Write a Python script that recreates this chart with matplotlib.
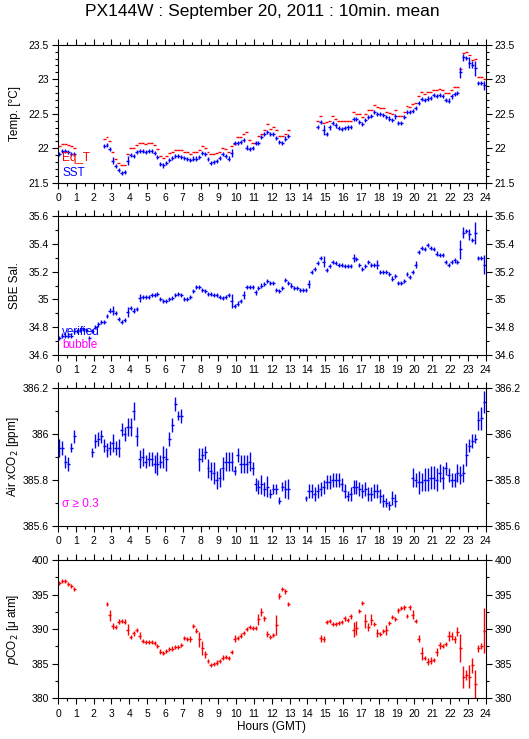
import numpy as np
import matplotlib
matplotlib.use('Agg')
import matplotlib.pyplot as plt
from matplotlib.ticker import MultipleLocator, FuncFormatter

plt.rcParams['font.family'] = ['Liberation Sans', 'DejaVu Sans']

# 10-minute means; each run starts at the given HH:MM and goes on in 10 min steps
temp_starts = ['00:00', '02:30', '14:30']
eqt_runs = [
    [22.03, 22.06, 22.06, 22.04, 22.03, 22.01],
    [22.14, 22.16, 22.10, 21.94, 21.84, 21.79, 21.76, 21.76, 21.92, 22.00, 22.00, 22.04,
     22.07, 22.07, 22.06, 22.07, 22.07, 22.04, 21.99, 21.88, 21.86, 21.88, 21.93, 21.95,
     21.98, 21.98, 21.97, 21.95, 21.94, 21.92, 21.94, 21.94, 21.97, 22.03, 22.01, 21.94,
     21.91, 21.92, 21.93, 21.95, 22.01, 21.99, 21.95, 22.03, 22.06, 22.16, 22.16, 22.20,
     22.23, 22.12, 22.08, 22.08, 22.18, 22.20, 22.26, 22.35, 22.28, 22.31, 22.26, 22.18,
     22.17, 22.21, 22.26],
    [22.40, 22.47, 22.37, 22.38, 22.39, 22.46, 22.42, 22.39, 22.39, 22.39, 22.39, 22.39,
     22.52, 22.50, 22.49, 22.45, 22.49, 22.55, 22.55, 22.62, 22.60, 22.58, 22.58, 22.53,
     22.51, 22.50, 22.55, 22.47, 22.47, 22.53, 22.61, 22.60, 22.64, 22.66, 22.75, 22.81,
     22.78, 22.82, 22.81, 22.85, 22.85, 22.86, 22.84, 22.80, 22.80, 22.84, 22.88, 22.88,
     23.15, 23.38, 23.40, 23.35, 23.28, 23.29, 23.03, 23.03, 23.00],
]
sst_runs = [
    [21.92, 21.96, 21.96, 21.94, 21.92, 21.92],
    [22.03, 22.05, 21.99, 21.82, 21.74, 21.68, 21.64, 21.65, 21.82, 21.90, 21.89, 21.94,
     21.96, 21.96, 21.95, 21.96, 21.96, 21.93, 21.87, 21.77, 21.75, 21.78, 21.83, 21.86,
     21.89, 21.89, 21.87, 21.86, 21.84, 21.83, 21.85, 21.85, 21.87, 21.93, 21.92, 21.84,
     21.79, 21.80, 21.82, 21.86, 21.92, 21.89, 21.85, 21.93, 22.07, 22.07, 22.09, 22.12,
     22.01, 21.99, 22.00, 22.08, 22.08, 22.16, 22.20, 22.24, 22.20, 22.21, 22.15, 22.09,
     22.07, 22.14, 22.18],
    [22.31, 22.38, 22.26, 22.21, 22.30, 22.36, 22.33, 22.29, 22.28, 22.29, 22.30, 22.31,
     22.42, 22.42, 22.38, 22.35, 22.41, 22.45, 22.47, 22.53, 22.50, 22.49, 22.48, 22.45,
     22.43, 22.41, 22.46, 22.37, 22.37, 22.45, 22.52, 22.52, 22.54, 22.58, 22.65, 22.71,
     22.70, 22.72, 22.73, 22.77, 22.76, 22.77, 22.76, 22.70, 22.69, 22.75, 22.78, 22.80,
     23.10, 23.32, 23.31, 23.24, 23.21, 23.16, 22.94, 22.94, 22.91],
]
sst_err_default = 0.03
sst_err_big = {'03:00': 0.05, '03:50': 0.07, '09:40': 0.06, '14:50': 0.07, '21:50': 0.04,
               '22:30': 0.08, '22:40': 0.05, '23:00': 0.08, '23:10': 0.05, '23:20': 0.11,
               '23:50': 0.06}

sal_starts = ['00:00']
sal_runs = [
    [34.72, 34.74, 34.74, 34.74, 34.74, 34.77, 34.77, 34.78, 34.79, 34.78, 34.72, 34.77,
     34.80, 34.82, 34.84, 34.84, 34.88, 34.92, 34.92, 34.90, 34.86, 34.84, 34.85, 34.91,
     34.94, 34.92, 34.93, 35.01, 35.02, 35.02, 35.02, 35.03, 35.03, 35.04, 35.00, 34.99,
     34.99, 35.00, 35.01, 35.03, 35.04, 35.03, 35.00, 35.00, 35.02, 35.06, 35.09, 35.09,
     35.07, 35.06, 35.04, 35.04, 35.03, 35.03, 35.02, 35.01, 35.02, 35.03, 34.99, 34.95,
     34.97, 34.99, 35.03, 35.09, 35.09, 35.09, 35.05, 35.08, 35.10, 35.11, 35.13, 35.12,
     35.12, 35.07, 35.06, 35.08, 35.14, 35.12, 35.10, 35.08, 35.08, 35.07, 35.07, 35.07,
     35.11, 35.20, 35.22, 35.26, 35.30, 35.27, 35.21, 35.24, 35.27, 35.26, 35.25, 35.25,
     35.24, 35.24, 35.24, 35.30, 35.29, 35.25, 35.22, 35.24, 35.27, 35.25, 35.25, 35.25,
     35.20, 35.20, 35.20, 35.18, 35.15, 35.17, 35.12, 35.12, 35.13, 35.18, 35.16, 35.20,
     35.25, 35.34, 35.37, 35.36, 35.39, 35.37, 35.36, 35.33, 35.32, 35.32, 35.27, 35.25,
     35.27, 35.28, 35.27, 35.36, 35.48, 35.49, 35.47, 35.43, 35.48, 35.30, 35.30, 35.25],
]
sal_err_default = 0.015
sal_err_big = {'01:40': 0.02, '03:00': 0.03, '03:50': 0.035, '04:30': 0.03, '09:40': 0.05,
               '10:20': 0.03, '14:00': 0.03, '14:50': 0.04, '16:30': 0.03, '17:50': 0.03,
               '20:00': 0.025, '22:30': 0.07, '22:40': 0.04, '23:00': 0.04, '23:20': 0.08,
               '23:50': 0.07}

xco2_starts = ['00:00', '01:50', '07:50', '13:50', '19:50']
xco2_runs = [
    [385.94, 385.94, 385.88, 385.87, 385.94, 385.99],
    [385.92, 385.97, 385.98, 385.99, 385.95, 385.93, 385.94, 385.96, 385.94, 385.94, 386.02,
     386.00, 386.03, 386.03, 386.10, 385.99, 385.89, 385.90, 385.88, 385.89, 385.89, 385.87,
     385.87, 385.88, 385.90, 385.89, 385.98, 386.04, 386.13, 386.08, 386.08],
    [385.89, 385.91, 385.92, 385.85, 385.84, 385.83, 385.80, 385.81, 385.85, 385.88, 385.88,
     385.88, 385.84, 385.91, 385.87, 385.87, 385.87, 385.88, 385.85, 385.78, 385.77, 385.78,
     385.76, 385.77, 385.74, 385.76, 385.76, 385.71, 385.77, 385.76, 385.76],
    [385.72, 385.75, 385.75, 385.74, 385.75, 385.76, 385.77, 385.79, 385.79, 385.80, 385.80,
     385.80, 385.78, 385.75, 385.73, 385.74, 385.77, 385.77, 385.76, 385.75, 385.76, 385.74,
     385.74, 385.75, 385.75, 385.73, 385.71, 385.70, 385.69, 385.72, 385.71],
    [385.81, 385.80, 385.79, 385.79, 385.80, 385.80, 385.81, 385.81, 385.80, 385.83, 385.81,
     385.85, 385.82, 385.80, 385.80, 385.83, 385.82, 385.83, 385.91, 385.95, 385.97, 385.98,
     386.06, 386.07, 386.14],
]
xco2_err_runs = [
    [0.04, 0.03, 0.03, 0.03, 0.02, 0.03],
    [0.02, 0.03, 0.03, 0.03, 0.03, 0.03, 0.03, 0.04, 0.03, 0.04, 0.03, 0.03, 0.04, 0.04, 0.04,
     0.04, 0.04, 0.04, 0.03, 0.03, 0.03, 0.04, 0.05, 0.03, 0.05, 0.05, 0.03, 0.03, 0.03, 0.02,
     0.03],
    [0.05, 0.03, 0.03, 0.04, 0.04, 0.05, 0.04, 0.04, 0.05, 0.04, 0.04, 0.04, 0.02, 0.03, 0.04,
     0.04, 0.04, 0.04, 0.03, 0.03, 0.03, 0.04, 0.03, 0.045, 0.02, 0.02, 0.02, 0.015, 0.02, 0.04,
     0.045],
    [0.01, 0.03, 0.03, 0.03, 0.03, 0.03, 0.03, 0.03, 0.03, 0.03, 0.03, 0.03, 0.03, 0.03, 0.02,
     0.03, 0.03, 0.03, 0.03, 0.03, 0.03, 0.03, 0.03, 0.03, 0.03, 0.03, 0.03, 0.02, 0.02, 0.03,
     0.03],
    [0.04, 0.03, 0.05, 0.04, 0.05, 0.05, 0.05, 0.05, 0.05, 0.04, 0.05, 0.03, 0.03, 0.03, 0.03,
     0.04, 0.04, 0.04, 0.05, 0.03, 0.03, 0.02, 0.04, 0.05, 0.05],
]

pco2_starts = ['00:00', '02:40', '14:40']
pco2_runs = [
    [396.67, 397.00, 397.00, 396.57, 396.18, 395.80],
    [393.67, 392.00, 390.48, 390.34, 391.10, 391.20, 391.10, 389.90, 388.84, 389.40, 389.90,
     389.03, 388.30, 388.10, 388.10, 388.10, 387.97, 387.60, 386.76, 386.52, 386.86, 387.10,
     387.20, 387.40, 387.40, 387.70, 388.70, 388.55, 388.55, 390.43, 389.80, 388.55, 387.25,
     386.40, 385.36, 384.83, 384.93, 385.17, 385.36, 385.90, 385.94, 385.80, 386.67, 388.60,
     388.74, 389.08, 389.42, 390.00, 390.29, 390.20, 390.14, 391.45, 392.50, 391.55, 389.30,
     388.90, 389.20, 390.60, 394.80, 395.80, 395.46, 393.67],
    [388.65, 388.55, 391.06, 391.20, 390.72, 390.77, 390.87, 391.00, 391.55, 391.35, 391.84,
     389.90, 390.14, 392.60, 393.77, 391.20, 390.30, 391.35, 390.72, 389.42, 389.30, 389.76,
     389.90, 390.87, 391.70, 391.50, 392.70, 393.04, 393.14, 391.93, 393.14, 392.10, 391.20,
     388.60, 386.50, 385.80, 385.30, 385.46, 385.50, 386.70, 387.70, 387.60, 387.87, 389.00,
     389.00, 388.55, 389.66, 387.25, 383.14, 383.38, 383.14, 384.78, 382.07, 387.25, 387.54,
     389.80],
]
pco2_err_default = 0.3
pco2_err_big = {'02:50': 0.75, '03:00': 0.4, '03:50': 0.8, '04:10': 0.4, '04:30': 0.5,
                '07:20': 0.4, '07:50': 1.1, '08:00': 1.0, '08:10': 0.5, '09:50': 0.5,
                '11:10': 0.8, '11:20': 0.6, '11:30': 0.4, '11:40': 0.5, '12:10': 1.4,
                '12:20': 0.5, '12:40': 0.4, '14:40': 0.5, '14:50': 0.4, '16:30': 1.1,
                '16:40': 1.0, '17:10': 1.0, '17:20': 0.6, '17:30': 0.8, '17:50': 0.6,
                '18:20': 0.7, '19:50': 0.7, '20:10': 0.5, '20:20': 0.9, '20:40': 0.5,
                '20:50': 0.5, '21:10': 0.6, '21:20': 0.5, '21:50': 0.7, '22:00': 0.6,
                '22:10': 0.5, '22:20': 0.7, '22:30': 2.0, '22:40': 1.6, '22:50': 0.7,
                '23:00': 1.7, '23:10': 1.1, '23:20': 2.0, '23:30': 0.5, '23:40': 0.4,
                '23:50': 3.3}

hour_ticks = list(range(0, 25))


def to_min(hhmm):
    h, m = hhmm.split(':')
    return int(h) * 60 + int(m)


def expand(starts, runs):
    # centre of every 10-minute slot, in hours
    xs, ys, keys = [], [], []
    for s, run in zip(starts, runs):
        m0 = to_min(s)
        for i, v in enumerate(run):
            m = m0 + 10 * i
            xs.append((m + 5) / 60.0)
            ys.append(v)
            keys.append('%02d:%02d' % (m // 60, m % 60))
    return np.array(xs), np.array(ys), keys


def errs(keys, default, big):
    return np.array([big.get(k, default) for k in keys])


BLUE = '#0000ff'
RED = '#ff0000'
MAGENTA = '#ff00ff'

fig = plt.figure(figsize=(5.29, 7.39), dpi=100)
W, H = 529.0, 739.0
left, right = 58.0, 485.7
panels = [(44.7, 182.7), (216.0, 355.0), (388.3, 525.7), (560.0, 698.3)]
axes = []
for top, bot in panels:
    ax = fig.add_axes([left / W, 1 - bot / H, (right - left) / W, (bot - top) / H])
    axes.append(ax)

fmt = FuncFormatter(lambda v, p: '%g' % round(v, 3))

def style(ax, ylo, yhi, major, minor, ylabel):
    ax.set_xlim(0, 24)
    ax.set_ylim(ylo, yhi)
    ax.set_xticks(hour_ticks)
    ax.xaxis.set_minor_locator(MultipleLocator(0.5))
    ax.yaxis.set_major_locator(MultipleLocator(major))
    ax.yaxis.set_minor_locator(MultipleLocator(minor))
    ax.yaxis.set_major_formatter(fmt)
    ax.tick_params(which='both', direction='out', top=True, right=True,
                   labelright=True, labelsize=7.5, width=0.8, pad=2)
    ax.tick_params(which='major', length=4.5)
    ax.tick_params(which='minor', length=2.2)
    ax.tick_params(axis='x', pad=3)
    for sp in ax.spines.values():
        sp.set_linewidth(0.8)
    ax.set_ylabel(ylabel, fontsize=8.5)
    ax.yaxis.set_label_coords(-0.086, 0.5)


# Temperature
ax = axes[0]
x, y, k = expand(temp_starts, eqt_runs)
ax.errorbar(x, y, xerr=1 / 12, fmt='none', ecolor=RED, elinewidth=1.0)
x, y, k = expand(temp_starts, sst_runs)
ax.errorbar(x, y, xerr=1 / 12, yerr=errs(k, sst_err_default, sst_err_big),
            fmt='none', ecolor=BLUE, elinewidth=1.0)
style(ax, 21.5, 23.5, 0.5, 0.1, 'Temp. [°C]')
ax.text(0.01, 0.179, 'Eq_T', color=RED, fontsize=8.5, va='center', transform=ax.transAxes)
ax.text(0.01, 0.07, 'SST', color=BLUE, fontsize=8.5, va='center', transform=ax.transAxes)

# Salinity
ax = axes[1]
x, y, k = expand(sal_starts, sal_runs)
ax.errorbar(x, y, xerr=1 / 12, yerr=errs(k, sal_err_default, sal_err_big),
            fmt='none', ecolor=BLUE, elinewidth=1.0)
style(ax, 34.6, 35.6, 0.2, 0.1, 'SBE Sal.')
ax.text(0.01, 0.165, 'verified', color=BLUE, fontsize=8.5, va='center', transform=ax.transAxes)
ax.text(0.01, 0.072, 'bubble', color=MAGENTA, fontsize=8.5, va='center', transform=ax.transAxes)

# Air xCO2
ax = axes[2]
x, y, k = expand(xco2_starts, xco2_runs)
e = np.concatenate(xco2_err_runs)
ax.errorbar(x, y, xerr=1 / 12, yerr=e, fmt='none', ecolor=BLUE, elinewidth=1.0)
style(ax, 385.6, 386.2, 0.2, 0.1, 'Air xCO$_2$ [ppm]')
ax.text(0.01, 0.158, 'σ ≥ 0.3', color=MAGENTA, fontsize=8.5, va='center', transform=ax.transAxes)

# pCO2
ax = axes[3]
x, y, k = expand(pco2_starts, pco2_runs)
ax.errorbar(x, y, xerr=1 / 12, yerr=errs(k, pco2_err_default, pco2_err_big),
            fmt='none', ecolor=RED, elinewidth=1.0)
style(ax, 380, 400, 5, 2.5, '$p$CO$_2$ [μ atm]')
ax.set_xlabel('Hours (GMT)', fontsize=8.5, labelpad=2)

fig.text(0.496, 1 - 11.5 / H, 'PX144W : September 20, 2011 : 10min. mean',
         ha='center', va='center', fontsize=12.5)

fig.savefig('out.png', dpi=100)
